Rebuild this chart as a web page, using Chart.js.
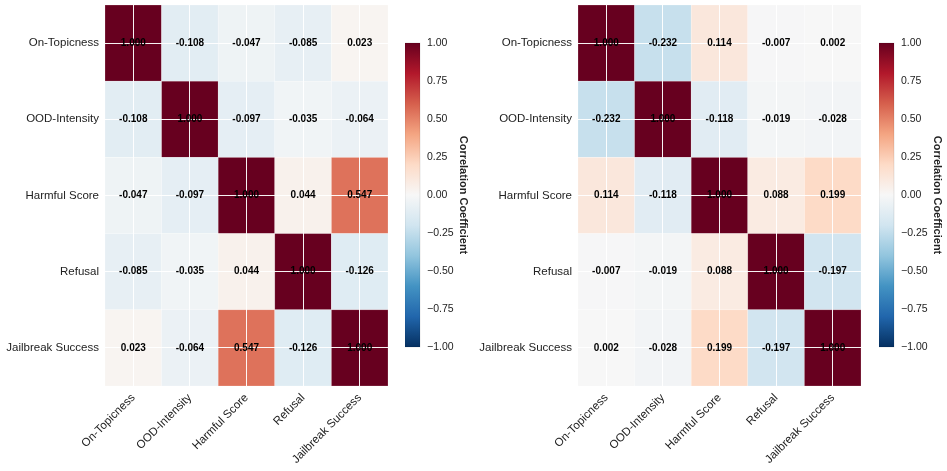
<!DOCTYPE html>
<html lang="en">
<head>
<meta charset="UTF-8">
<title>Correlation heatmaps</title>
<script src="https://cdn.jsdelivr.net/npm/chart.js"></script>
<style>
  html, body { margin: 0; padding: 0; background: #fff; }
  #wrap { position: relative; width: 947px; height: 471px; overflow: hidden; }
  canvas { position: absolute; top: 0; }
</style>
</head>
<body>
<div id="wrap">
  <canvas id="heatLeft" width="388" height="471" style="left:0px"></canvas>
  <canvas id="barLeft" width="65" height="471" style="left:405px"></canvas>
  <canvas id="heatRight" width="388" height="471" style="left:473px"></canvas>
  <canvas id="barRight" width="65" height="471" style="left:879px"></canvas>
</div>
<script>
  // data
  const metrics = ['On-Topicness', 'OOD-Intensity', 'Harmful Score', 'Refusal', 'Jailbreak Success'];
  const leftCorr = [
    [1.000, -0.108, -0.047, -0.085, 0.023],
    [-0.108, 1.000, -0.097, -0.035, -0.064],
    [-0.047, -0.097, 1.000, 0.044, 0.547],
    [-0.085, -0.035, 0.044, 1.000, -0.126],
    [0.023, -0.064, 0.547, -0.126, 1.000]
  ];
  const rightCorr = [
    [1.000, -0.232, 0.114, -0.007, 0.002],
    [-0.232, 1.000, -0.118, -0.019, -0.028],
    [0.114, -0.118, 1.000, 0.088, 0.199],
    [-0.007, -0.019, 0.088, 1.000, -0.197],
    [0.002, -0.028, 0.199, -0.197, 1.000]
  ];
  const cbTicks = [-1, -0.75, -0.5, -0.25, 0, 0.25, 0.5, 0.75, 1];

  Chart.defaults.font.family = "'Liberation Sans', Arial, sans-serif";

  // RdBu_r, low to high
  const rdbu = ['#053061', '#2166ac', '#4393c3', '#92c5de', '#d1e5f0', '#f7f7f7',
                '#fddbc7', '#f4a582', '#d6604d', '#b2182b', '#67001f'];
  const rgbOf = h => [1, 3, 5].map(k => parseInt(h.slice(k, k + 2), 16));

  function colorFor(v) {
    const t = Math.max(0, Math.min(1, (v + 1) / 2)) * 10;
    const i = Math.min(9, Math.floor(t));
    const f = t - i;
    const a = rgbOf(rdbu[i]), b = rgbOf(rdbu[i + 1]);
    const c = a.map((x, k) => Math.round(x + (b[k] - x) * f));
    return `rgb(${c[0]},${c[1]},${c[2]})`;
  }

  const cellPlugin = {
    id: 'cells',
    beforeDraw(chart) {
      const { ctx, scales: { x, y } } = chart;
      ctx.save();
      chart.data.datasets[0].data.forEach(p => {
        const xa = x.getPixelForValue(p.x - 0.5), xb = x.getPixelForValue(p.x + 0.5);
        const ya = y.getPixelForValue(p.y - 0.5), yb = y.getPixelForValue(p.y + 0.5);
        const left = Math.min(xa, xb), top = Math.min(ya, yb);
        const w = Math.abs(xb - xa), h = Math.abs(yb - ya);
        ctx.fillStyle = colorFor(p.v);
        ctx.fillRect(left, top, w, h);
        ctx.strokeStyle = 'rgba(255,255,255,0.35)';
        ctx.lineWidth = 0.6;
        ctx.strokeRect(left, top, w, h);
      });
      ctx.restore();
    },
    afterDatasetsDraw(chart) {
      const { ctx, scales: { x, y } } = chart;
      ctx.save();
      ctx.font = "bold 10px 'Liberation Sans', Arial, sans-serif";
      ctx.fillStyle = '#000';
      ctx.textAlign = 'center';
      ctx.textBaseline = 'middle';
      chart.data.datasets[0].data.forEach(p => {
        ctx.fillText(p.v.toFixed(3), x.getPixelForValue(p.x), y.getPixelForValue(p.y));
      });
      ctx.restore();
    }
  };

  function heatmap(id, matrix) {
    const pts = [];
    matrix.forEach((row, i) => row.forEach((v, j) => pts.push({ x: j, y: i, v: v })));
    const idxTicks = s => { s.ticks = metrics.map((_, i) => ({ value: i })); };
    return new Chart(document.getElementById(id), {
      type: 'scatter',
      data: { datasets: [{ data: pts, pointRadius: 0, pointHoverRadius: 0 }] },
      options: {
        responsive: false,
        animation: false,
        events: [],
        layout: { padding: { top: 5, right: 0, left: 0, bottom: 0 } },
        plugins: { legend: { display: false }, tooltip: { enabled: false } },
        scales: {
          x: {
            type: 'linear', min: -0.5, max: 4.5,
            afterBuildTicks: idxTicks,
            afterFit: s => { s.height = 85; s.paddingLeft = 0; s.paddingRight = 0; },
            ticks: {
              callback: v => metrics[v],
              minRotation: 45, maxRotation: 45, padding: 5,
              color: '#222', font: { size: 11.5 }
            },
            grid: { color: 'rgba(255,255,255,0.95)', lineWidth: 1, drawTicks: false },
            border: { display: false }
          },
          y: {
            type: 'linear', min: -0.5, max: 4.5, reverse: true,
            afterBuildTicks: idxTicks,
            afterFit: s => { s.width = 105; s.paddingTop = 0; s.paddingBottom = 0; },
            ticks: {
              callback: v => metrics[v],
              padding: 6, color: '#222', font: { size: 11.5 }
            },
            grid: { color: 'rgba(255,255,255,0.95)', lineWidth: 1, drawTicks: false },
            border: { display: false }
          }
        }
      },
      plugins: [cellPlugin]
    });
  }

  const gradPlugin = {
    id: 'grad',
    beforeDraw(chart) {
      const { ctx, chartArea: a, scales: { y } } = chart;
      const yLo = y.getPixelForValue(-1), yHi = y.getPixelForValue(1);
      const g = ctx.createLinearGradient(0, yLo, 0, yHi);
      rdbu.forEach((c, i) => g.addColorStop(i / 10, c));
      ctx.save();
      ctx.fillStyle = g;
      ctx.fillRect(a.left, yHi, a.right - a.left, yLo - yHi);
      ctx.strokeStyle = 'rgba(0,0,0,0.12)';
      ctx.lineWidth = 0.8;
      ctx.strokeRect(a.left, yHi, a.right - a.left, yLo - yHi);
      ctx.restore();
    }
  };

  function colorbar(id) {
    return new Chart(document.getElementById(id), {
      type: 'scatter',
      data: { datasets: [{ data: [] }] },
      options: {
        responsive: false,
        animation: false,
        events: [],
        layout: { padding: { top: 43, bottom: 124, left: 0, right: 0 } },
        plugins: { legend: { display: false }, tooltip: { enabled: false } },
        scales: {
          x: { display: false, min: 0, max: 1 },
          y: {
            position: 'right', min: -1, max: 1,
            afterBuildTicks: s => { s.ticks = cbTicks.map(v => ({ value: v })); },
            afterFit: s => { s.width = 50; },
            ticks: {
              callback: v => (v < 0 ? '\u2212' : '') + Math.abs(v).toFixed(2),
              padding: 7, color: '#222', font: { size: 10.5 }
            },
            grid: { display: false, drawTicks: false },
            border: { display: false },
            title: {
              display: true, text: 'Correlation Coefficient', padding: 0,
              color: '#222', font: { size: 11, weight: 'bold' }
            }
          }
        }
      },
      plugins: [gradPlugin]
    });
  }

  heatmap('heatLeft', leftCorr);
  colorbar('barLeft');
  heatmap('heatRight', rightCorr);
  colorbar('barRight');
</script>
</body>
</html>
